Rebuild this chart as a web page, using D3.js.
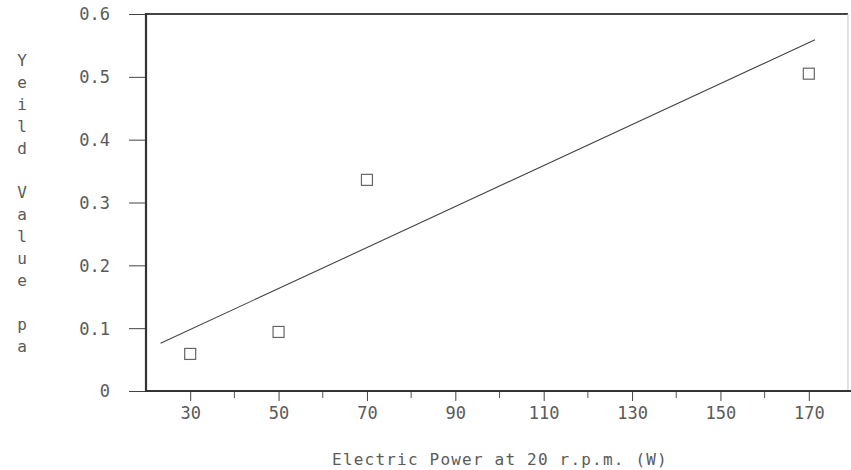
<!DOCTYPE html>
<html>
<head>
<meta charset="utf-8">
<title>Yeild Value vs Electric Power</title>
<script src="https://cdn.jsdelivr.net/npm/d3@7"></script>
<style>
body { margin: 0; background: #fff; }
#chart text { font-family: "DejaVu Sans Mono", monospace; fill: #5a5a5a; }
</style>
</head>
<body>
<div id="chart"></div>
<script>
// measured points
var powerW = [30, 50, 70, 170];
var yeildPa = [0.059, 0.094, 0.336, 0.505];
// fitted line ends
var fitX = [23.3, 171.4];
var fitY = [0.076, 0.559];

var xTicks = [30, 50, 70, 90, 110, 130, 150, 170];
var xMinor = [40, 60, 80, 100, 120, 140, 160];
var yTicks = [0, 0.1, 0.2, 0.3, 0.4, 0.5, 0.6];
var yTitle = "Yeild Value pa";
var xTitle = "Electric Power at 20 r.p.m. (W)";

var W = 851, H = 470;
var pLeft = 146, pTop = 14, pBottom = 391, pRight = 848;

var svg = d3.select('#chart').append('svg')
  .attr('width', W).attr('height', H);

var x = d3.scaleLinear().domain([20, 180]).range([pLeft, 853]);
var y = d3.scaleLinear().domain([0, 0.6]).range([pBottom, pTop]);

var fmtY = function(d) { return d === 0 ? '0' : d3.format('.1f')(d); };

// y axis
var gy = svg.append('g').attr('transform', 'translate(' + pLeft + ',0)')
  .call(d3.axisLeft(y).tickValues(yTicks).tickSize(17).tickPadding(19).tickFormat(fmtY));
gy.select('.domain').remove();
gy.selectAll('.tick line').attr('stroke', '#444').attr('stroke-width', 1);
gy.selectAll('.tick text').style('font-size', '17px').attr('dy', '0.35em');

// x axis, major + minor
var gx = svg.append('g').attr('transform', 'translate(0,' + pBottom + ')')
  .call(d3.axisBottom(x).tickValues(xTicks).tickSize(10).tickPadding(6));
gx.select('.domain').remove();
gx.selectAll('.tick line').attr('stroke', '#444');
gx.selectAll('.tick text').style('font-size', '17px').attr('dy', '0.71em');

svg.append('g').selectAll('line').data(xMinor).join('line')
  .attr('x1', x).attr('x2', x)
  .attr('y1', pBottom + 1).attr('y2', pBottom + 7)
  .attr('stroke', '#555');

// frame
svg.append('line').attr('x1', pLeft).attr('x2', pRight).attr('y1', pTop).attr('y2', pTop)
  .attr('stroke', '#444').attr('stroke-width', 2.2);
svg.append('line').attr('x1', pRight).attr('x2', pRight).attr('y1', pTop).attr('y2', pBottom)
  .attr('stroke', '#c4c4c4').attr('stroke-width', 1);
svg.append('line').attr('x1', pLeft).attr('x2', pLeft).attr('y1', pTop - 1).attr('y2', pBottom + 1)
  .attr('stroke', '#333').attr('stroke-width', 2.2);
svg.append('line').attr('x1', pLeft - 1).attr('x2', W).attr('y1', pBottom).attr('y2', pBottom)
  .attr('stroke', '#333').attr('stroke-width', 2.2);

// fit line
svg.append('line')
  .attr('x1', x(fitX[0])).attr('y1', y(fitY[0]))
  .attr('x2', x(fitX[1])).attr('y2', y(fitY[1]))
  .attr('stroke', '#444').attr('stroke-width', 1.1);

// points
var s = 11;
svg.append('g').selectAll('rect').data(powerW).join('rect')
  .attr('x', function(d) { return x(d) - s / 2; })
  .attr('y', function(d, i) { return y(yeildPa[i]) - s / 2; })
  .attr('width', s).attr('height', s)
  .attr('fill', 'none').attr('stroke', '#666').attr('stroke-width', 1.2);

// x title
svg.append('text').attr('x', 500).attr('y', 465)
  .attr('text-anchor', 'middle')
  .style('font-size', '16px').style('letter-spacing', '1.2px')
  .text(xTitle);

// y title, one letter per row
var chars = yTitle.split('');
var yt = d3.scaleLinear().domain([0, chars.length - 1]).range([60, 346]);
svg.append('g').selectAll('text').data(chars).join('text')
  .attr('x', 22).attr('y', function(d, i) { return yt(i); })
  .attr('dy', '0.35em').attr('text-anchor', 'middle')
  .style('font-size', '16px')
  .text(function(d) { return d; });
</script>
</body>
</html>
